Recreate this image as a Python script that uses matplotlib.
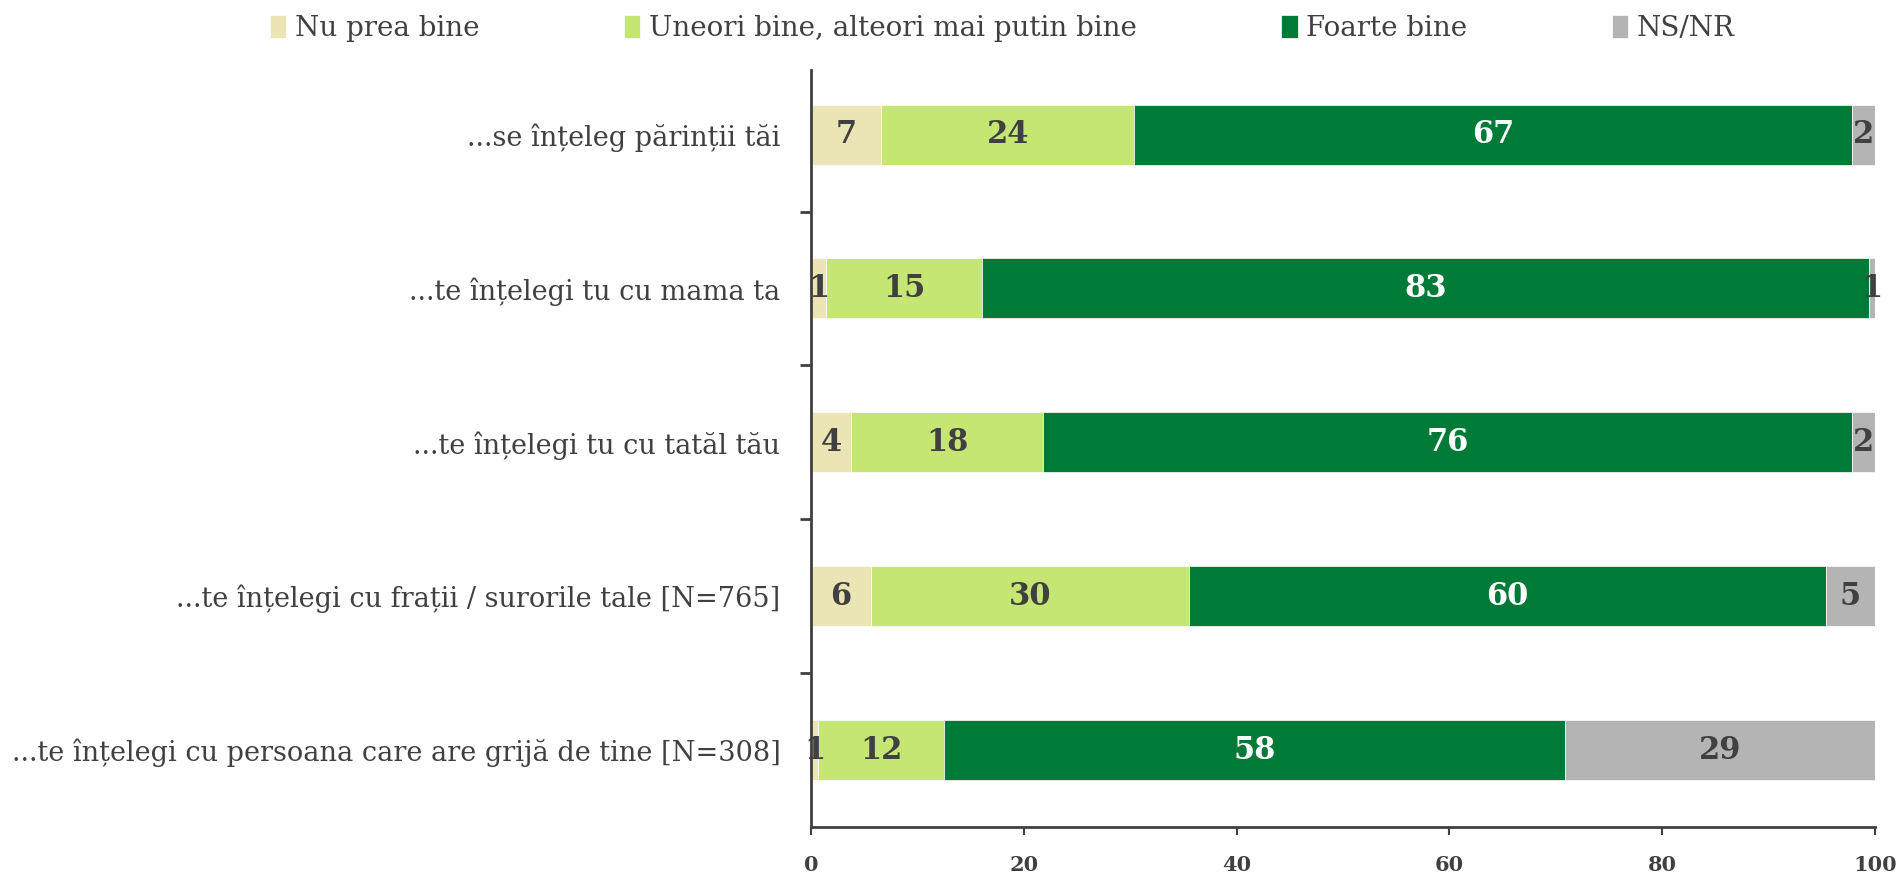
import matplotlib.pyplot as plt
import numpy as np

# categories (top to bottom) and segment values (%)
categories = ['...se înțeleg părinții tăi',
              '...te înțelegi tu cu mama ta',
              '...te înțelegi tu cu tatăl tău',
              '...te înțelegi cu frații / surorile tale [N=765]',
              '...te înțelegi cu persoana care are grijă de tine [N=308]']
series = ['Nu prea bine', 'Uneori bine, alteori mai putin bine', 'Foarte bine', 'NS/NR']
nu_prea = [6.6, 1.4, 3.8, 5.6, 0.7]
uneori = [23.8, 14.7, 18.0, 29.9, 11.8]
foarte = [67.4, 83.3, 76.0, 59.9, 58.4]
nsnr = [2.2, 0.6, 2.2, 4.6, 29.1]
xticks = [0, 20, 40, 60, 80, 100]

colors = ['#EBE5B5', '#C5E673', '#007A37', '#B4B4B4']
label_colors = ['#404040', '#404040', 'white', '#404040']
txt = '#404040'
font = 'DejaVu Serif'

fig = plt.figure(figsize=(18.98, 8.73), dpi=100)
ax = fig.add_axes([0.4273, 0.0527, 0.5606, 0.8671])

y = np.arange(len(categories))
left = np.zeros(len(categories))
for vals, name, c, lc in zip([nu_prea, uneori, foarte, nsnr], series, colors, label_colors):
    bars = ax.barh(y, vals, left=left, height=0.39, color=c, label=name,
                   edgecolor='white', linewidth=0.5)
    ax.bar_label(bars, fmt='%.0f', label_type='center', color=lc,
                 fontsize=22, fontweight='bold', family=font)
    left += np.array(vals)

ax.set_ylim(len(categories) - 0.5, -0.42)
ax.set_xlim(0, 100)
ax.set_yticks(y)
ax.set_yticklabels(categories, fontsize=19.5, family=font, color=txt)
ax.set_yticks(np.arange(0.5, len(categories) - 1), minor=True)
ax.tick_params(axis='y', which='major', length=0, pad=22)
ax.tick_params(axis='y', which='minor', length=8, width=2, color=txt)
ax.set_xticks(xticks)
ax.set_xticklabels([str(t) for t in xticks], fontsize=15, fontweight='bold',
                   family=font, color=txt)
ax.tick_params(axis='x', length=6, width=1.5, color=txt, pad=14)

for s in ['top', 'right']:
    ax.spines[s].set_visible(False)
for s in ['left', 'bottom']:
    ax.spines[s].set_color(txt)
    ax.spines[s].set_linewidth(2)

leg = fig.legend(loc='upper center', bbox_to_anchor=(0.528, 1.012), ncol=4,
                 frameon=False, prop={'family': font, 'size': 20},
                 handlelength=0.6, handleheight=0.9, handletextpad=0.3,
                 columnspacing=5.2)
for t in leg.get_texts():
    t.set_color(txt)

fig.savefig('out.png', dpi=100)
